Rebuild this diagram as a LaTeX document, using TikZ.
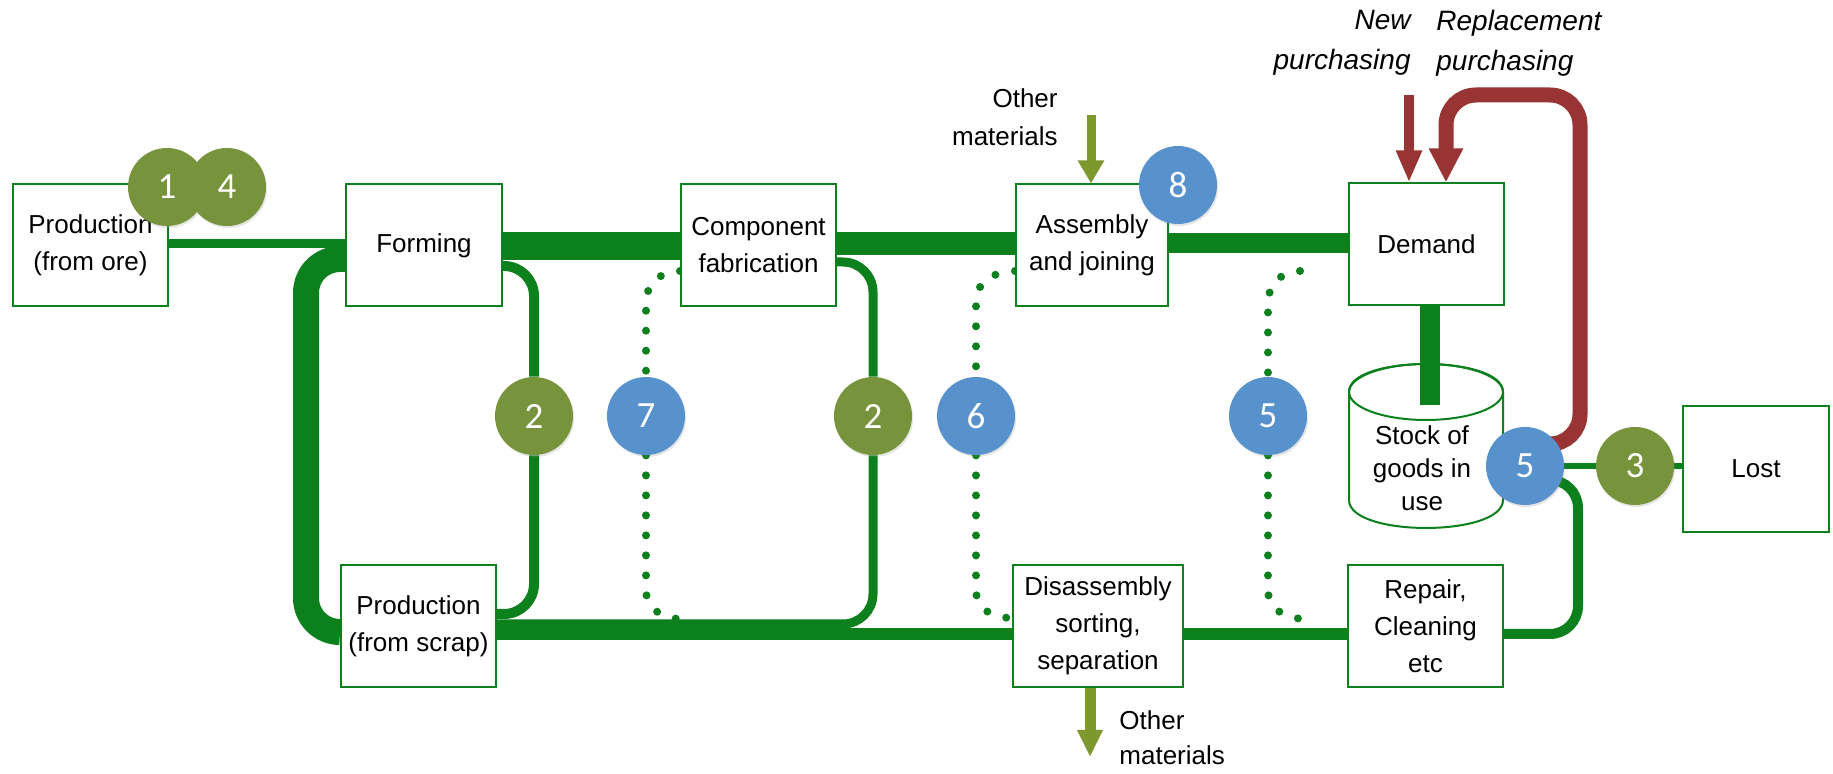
\documentclass[tikz,border=0pt]{standalone}
\usepackage{fontspec}
\setmainfont{Liberation Sans}
\newfontfamily\numfont{Carlito}
\usetikzlibrary{arrows.meta,shadows,calc}

\definecolor{flow}{RGB}{12,128,28}
\definecolor{olivec}{RGB}{119,148,60}
\definecolor{bluec}{RGB}{88,146,205}
\definecolor{brick}{RGB}{152,52,52}
\definecolor{olivearrow}{RGB}{125,152,45}

\pgfdeclarelayer{bg}
\pgfsetlayers{bg,main}

\begin{document}
\begin{tikzpicture}[x=0.5pt,y=-0.5pt,
  box/.style={draw=flow, line width=1pt, fill=white, minimum height=61pt,
    inner sep=0pt, align=center, font=\fontsize{13}{18.5}\selectfont},
  flowline/.style={draw=flow, line cap=butt},
  dotline/.style={draw=flow, line width=4pt, line cap=round, dash pattern=on 0pt off 10pt},
  badge/.style={circle, fill=#1, minimum size=39pt, inner sep=0pt, text=white,
    font=\numfont\fontsize{18.5}{20}\selectfont,
    drop shadow={shadow xshift=0.6pt, shadow yshift=-1pt, opacity=0.2}},
  note/.style={font=\fontsize{13}{19}\selectfont, inner sep=0pt},
  buy/.style={font=\itshape\fontsize{14}{20}\selectfont, inner sep=0pt},
  redline/.style={draw=brick, line width=7.5pt, line cap=butt},
]
\useasboundingbox (0,0) rectangle (1833,774);

% process boxes
\node[box, minimum width=77.5pt] (ore)      at (90.5,245.5)  {Production\\(from ore)};
\node[box, minimum width=78pt]   (forming)  at (424,245.5)   {Forming};
\node[box, minimum width=77.5pt] (compfab)  at (758.5,245.5) {Component\\fabrication};
\node[box, minimum width=76pt]   (assembly) at (1092,245.5)  {Assembly\\and joining};
\node[box, minimum width=77.5pt] (demand)   at (1426.5,244.5){Demand};
\node[box, minimum width=77.5pt] (scrap)    at (418.5,626)   {Production\\(from scrap)};
\node[box, minimum width=85pt]   (disasm)   at (1098,626)    {Disassembly\\sorting,\\separation};
\node[box, minimum width=77.5pt] (repair)   at (1425.5,626)  {Repair,\\Cleaning\\etc};
\node[box, minimum width=73pt, minimum height=63pt] (lost) at (1756,469) {Lost};

% stock of goods (cylinder drawn below, text here)
\node[inner sep=0pt, align=center, font=\fontsize{13}{16.5}\selectfont] (stock) at (1422,468) {Stock of\\goods in\\use};

% side labels
\node[note, align=right, anchor=north east] (othin) at (1058,88) {Other\\materials};
\node[note, align=left, anchor=north west, font=\fontsize{13}{17.5}\selectfont] (othout) at (1119,710) {Other\\materials};
\node[buy, align=right, anchor=north east] (newbuy) at (1411,10) {New\\purchasing};
\node[buy, align=left, anchor=north west] (replbuy) at (1436,10) {Replacement\\purchasing};

% badges
\node[badge=olivec] (c1)  at (167,187)  {1};
\node[badge=olivec] (c4)  at (227,187)  {4};
\node[badge=bluec]  (c8)  at (1178,185) {8};
\node[badge=olivec] (c2a) at (534,416)  {2};
\node[badge=bluec]  (c7)  at (646,416)  {7};
\node[badge=olivec] (c2b) at (873,416)  {2};
\node[badge=bluec]  (c6)  at (976,416)  {6};
\node[badge=bluec]  (c5a) at (1268,416) {5};
\node[badge=bluec]  (c5b) at (1525,466) {5};
\node[badge=olivec] (c3)  at (1635,466) {3};

% free ends of connectors
\coordinate (stocktop) at (1430,405);
\coordinate (newsrc) at (1409,95);
\coordinate (rtop) at (1580,95);
\coordinate (othsrc) at (1091,115);
\coordinate (othdst) at (1090,757);

\begin{pgfonlayer}{bg}
  \fill[white] (0,0) rectangle (1833,774);
  % cylinder body
  \path[draw=flow, line width=1pt, fill=white]
    (1349,392) -- (1349,500) .. controls (1349,537.3) and (1503,537.3) .. (1503,500)
    -- (1503,392) .. controls (1503,354.7) and (1349,354.7) .. (1349,392);
  \draw[flow, line width=1pt] (1426,392) ellipse [x radius=77, y radius=28];

  % main flows
  \draw[flowline, line width=4.5pt] (ore.east|-0,244) -- (forming.west|-0,244);
  \draw[flowline, line width=13pt, rounded corners=17pt]
    (forming.west|-0,259) -| (306,632) -- (scrap.west|-0,632);
  \draw[flowline, line width=14pt] (forming.east|-0,246) -- (compfab.west|-0,246);
  \draw[flowline, line width=11.5pt] (compfab.east|-0,244) -- (assembly.west|-0,244);
  \draw[flowline, line width=10pt] (assembly.east|-0,243) -- (demand.west|-0,243);
  \draw[flowline, line width=10pt] (demand.south-|1430,0) -- (stocktop);

  % scrap returns
  \draw[flowline, line width=5pt, rounded corners=15pt]
    (forming.east|-0,266) -| (c2a) |- (scrap.east|-0,614);
  \draw[flowline, line width=4.5pt, rounded corners=15pt]
    (compfab.east|-0,262) -| (c2b) |- (scrap.east|-0,624);
  \draw[flowline, line width=6pt] (disasm.west|-0,634) -- (scrap.east|-0,634);
  \draw[flowline, line width=6pt] (repair.west|-0,634) -- (disasm.east|-0,634);
  \draw[flowline, line width=5pt, rounded corners=14pt]
    ($(c5b)+(0,14)$) -| (1578,634) -- (repair.east|-0,634);
  \draw[flowline, line width=3pt] (c5b) -- (c3) -- (lost.west|-0,466);

  % dotted reuse paths
  \draw[dotline] (compfab.west|-0,271) .. controls (655,273) and (646,286) .. (646,305)
    -- (c7) -- (646,590) .. controls (646,607) and (660,618) .. (680,619);
  \draw[dotline] (assembly.west|-0,271) .. controls (985,273) and (976,286) .. (976,305)
    -- (c6) -- (976,590) .. controls (976,607) and (990,618) .. (disasm.west|-0,618);
  \draw[dotline] (1300,271) .. controls (1277,273) and (1268,286) .. (1268,305)
    -- (c5a) -- (1268,590) .. controls (1268,607) and (1282,618) .. (1304,619);

  % purchasing
  \draw[redline, line width=5pt, -{Triangle[width=12pt,length=16pt]}] (newsrc) -- (demand.north-|1409,0);
  \draw[redline, rounded corners=15pt, -{Triangle[width=16pt,length=17pt]}]
    ($(c5b)+(0,-22)$) -| (rtop) -- (rtop-|1446,0) -- (demand.north-|1446,0);

  % other materials
  \draw[draw=olivearrow, line width=4.5pt, -{Triangle[width=12.5pt,length=11.5pt]}] (othsrc) -- (assembly.north-|othsrc);
  \draw[draw=olivearrow, line width=5.5pt, -{Triangle[width=12pt,length=13.5pt]}] (disasm.south-|othdst) -- (othdst);
\end{pgfonlayer}
\end{tikzpicture}
\end{document}
